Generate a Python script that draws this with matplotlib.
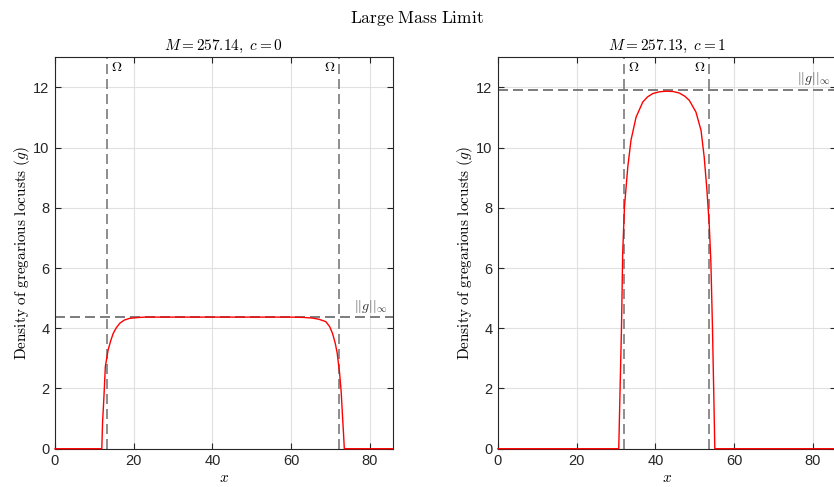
import matplotlib
matplotlib.use("Agg")
import matplotlib.pyplot as plt

plt.rcParams['mathtext.fontset'] = 'cm'
plt.rcParams['font.family'] = ['Liberation Sans', 'DejaVu Sans']

# ---- data ----
x_c0 = [0, 11.9, 12.1, 12.4, 12.8, 13.5, 14.2, 14.8, 15.6, 16.5, 17.6, 19.0, 21.5, 23.0,
        30, 40, 50, 60, 63.0, 65.3, 67.0, 68.8, 69.8, 70.5, 71.2, 71.7, 72.3, 72.7,
        73.0, 73.3, 73.5, 85.8]
g_c0 = [0, 0, 0.9, 1.62, 2.73, 3.28, 3.6, 3.83, 4.02, 4.17, 4.27, 4.33, 4.36, 4.37,
        4.37, 4.37, 4.37, 4.37, 4.36, 4.34, 4.30, 4.22, 4.05, 3.83, 3.50, 3.17, 2.51, 1.90,
        1.18, 0.50, 0, 0]

x_c1 = [0, 30.7, 31.05, 31.4, 31.7, 32.15, 33.0, 33.8, 35.1, 36.8, 38.0, 39.3, 41.0,
        42.7, 44.5, 46.1, 47.5, 48.6, 50.3, 51.6, 52.4, 53.1, 53.7, 54.1, 54.5, 54.9,
        55.1, 85.8]
g_c1 = [0, 0, 2.07, 4.05, 6.5, 8.03, 9.36, 10.24, 11.01, 11.51, 11.68, 11.79, 11.85,
        11.87, 11.86, 11.81, 11.70, 11.57, 11.18, 10.57, 9.69, 8.58, 7.4, 6.2, 4.05, 1.4,
        0, 0]

titles = [r'$M = 257.14,\ c = 0$', r'$M = 257.13,\ c = 1$']
omega_c0 = [13.3, 72.2]
omega_c1 = [32.15, 53.7]
gmax = [4.37, 11.92]
xticks = [0, 20, 40, 60, 80]
yticks = [0, 2, 4, 6, 8, 10, 12]
xmax = 85.8
ymax = 13

fig = plt.figure(figsize=(8.34, 4.87), dpi=100)
positions = [[0.0659, 0.0786, 0.405, 0.804], [0.597, 0.0786, 0.405, 0.804]]
xs = [x_c0, x_c1]
gs = [g_c0, g_c1]
omegas = [omega_c0, omega_c1]

axc = '#262626'
for i in range(2):
    ax = fig.add_axes(positions[i])
    ax.set_xlim(0, xmax)
    ax.set_ylim(0, ymax)
    ax.set_xticks(xticks)
    ax.set_yticks(yticks)
    ax.grid(True, color='#e0e0e0', linewidth=0.8)
    ax.set_axisbelow(True)
    for s in ax.spines.values():
        s.set_color(axc)
        s.set_linewidth(0.8)
    ax.tick_params(direction='in', length=4, width=0.8, color=axc, labelcolor=axc,
                   labelsize=10.5, top=True, right=True, pad=4)
    dash = (0, (6, 3))
    for om in omegas[i]:
        ax.axvline(om, color='#7a7a7a', linestyle=dash, linewidth=1.2, zorder=2)
    ax.axhline(gmax[i], color='#666666', linestyle=dash, linewidth=1.2, zorder=2)
    ax.plot(xs[i], gs[i], color='red', linewidth=1.0, zorder=3, clip_on=False)
    ax.text(omegas[i][0] + 0.9, 12.68, r'$\Omega$', ha='left', va='center', fontsize=10)
    ax.text(omegas[i][1] - 0.9, 12.68, r'$\Omega$', ha='right', va='center', fontsize=10)
    ax.text(84.6, gmax[i] + 0.08, r'$||g||_{\infty}$', ha='right', va='bottom', fontsize=10,
            color='#333333')
    ax.set_title(titles[i], fontsize=11, pad=5)
    ax.set_xlabel(r'$x$', fontsize=11, labelpad=2)
    ax.set_ylabel(r'$\mathrm{Density\ of\ gregarious\ locusts\ }(g)$', fontsize=11,
                  labelpad=1)

fig.text(0.5, 0.963, r'$\mathrm{Large\ Mass\ Limit}$', ha='center', va='center', fontsize=12.5)

fig.savefig('out.png', dpi=100)
